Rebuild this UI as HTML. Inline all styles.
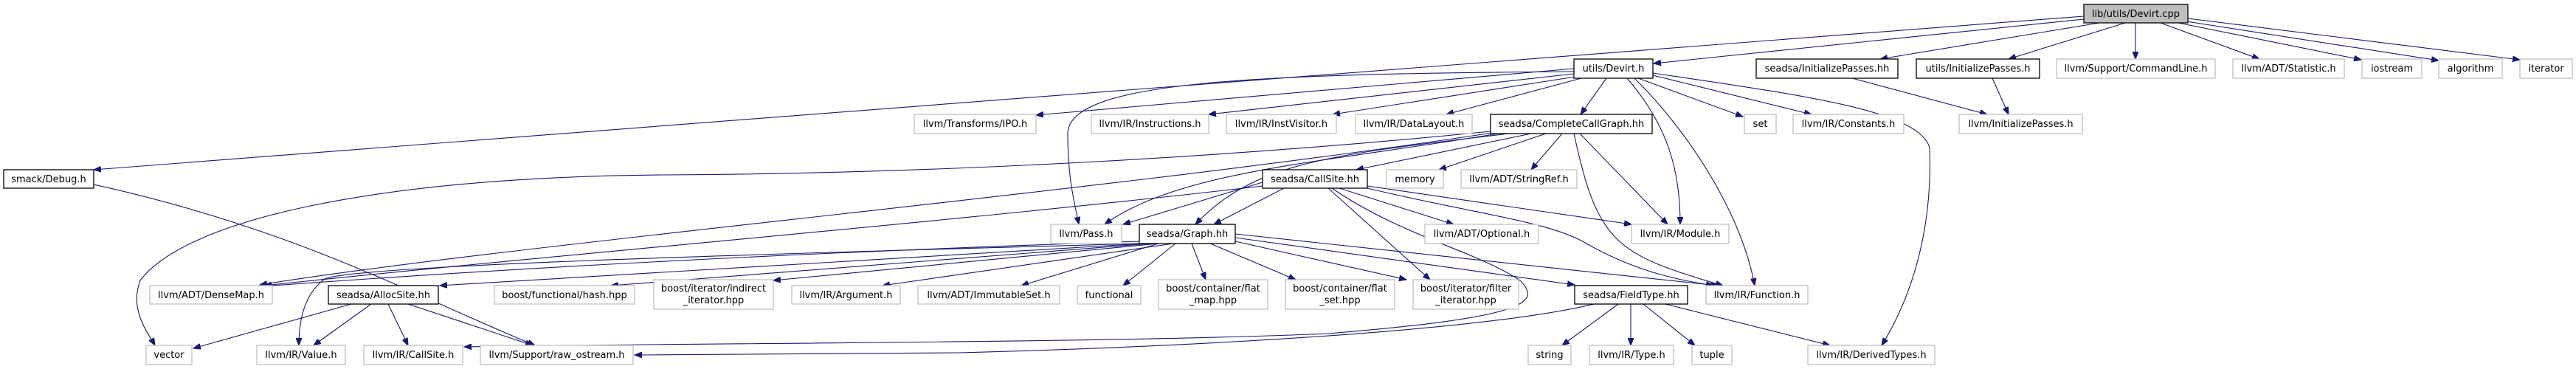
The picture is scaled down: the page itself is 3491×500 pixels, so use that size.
<!DOCTYPE html>
<html><head><meta charset="utf-8"><style>
html,body{margin:0;padding:0;background:#fff;}
svg{display:block;}
text{font-family:"DejaVu Sans","Liberation Sans",sans-serif;font-size:13px;fill:#000;}
.n{fill:#fff;stroke:#bfbfbf;stroke-width:1.3;}
.b{fill:#fff;stroke:#000;stroke-width:1.3;}
.e{fill:none;stroke:#191970;stroke-width:1.1;marker-end:url(#a);}
</style></head><body>
<svg width="3491" height="500" viewBox="0 0 3491 500" xmlns="http://www.w3.org/2000/svg">
<defs><marker id="a" markerUnits="userSpaceOnUse" markerWidth="11" markerHeight="8" refX="10" refY="4" orient="auto"><path d="M0,0 L10,4 L0,8 z" fill="#191970" stroke="#191970"/></marker></defs>
<g>
<!-- edges from cpp -->
<path class="e" d="M2824,22 L127,230"/>
<path class="e" d="M2824,26 L2241,86"/>
<path class="e" d="M2845,31 L2548,80"/>
<path class="e" d="M2880,31 L2722,80"/>
<path class="e" d="M2894,31 L2894,80"/>
<path class="e" d="M2928,31 L3062,80"/>
<path class="e" d="M2952,31 L3200,81"/>
<path class="e" d="M2963,29 L3305,82"/>
<path class="e" d="M2965,25 L3415,81"/>
<path class="e" d="M2510,106 L2693,155"/>
<path class="e" d="M2700,106 L2722,155"/>
<path class="e" d="M127,250 C400,310 560,400 725,468"/>
<!-- devirt.h -->
<path class="e" d="M2133,93 L1404,156"/>
<path class="e" d="M2133,100 L1638,155"/>
<path class="e" d="M2135,104 L1806,155"/>
<path class="e" d="M2143,106 L1960,155"/>
<path class="e" d="M2177,106 L2142,155"/>
<path class="e" d="M2220,106 L2362,158"/>
<path class="e" d="M2240,102 L2455,155"/>
<path class="e" d="M2133,97 C1700,100 1450,110 1447,180 C1447,240 1455,270 1462,304"/>
<path class="e" d="M2205,106 C2260,170 2277,230 2277,304"/>
<path class="e" d="M2215,106 C2290,180 2360,290 2378,387"/>
<path class="e" d="M2240,99 C2450,130 2600,150 2615,200 C2620,330 2580,420 2550,468"/>
<!-- ccg -->
<path class="e" d="M2020,178 C1700,210 1300,235 900,237 C500,240 250,300 190,380 C175,420 200,450 210,468"/>
<path class="e" d="M2022,180 C1500,260 700,330 352,386"/>
<path class="e" d="M2030,181 C1800,220 1600,230 1497,304"/>
<path class="e" d="M2045,181 C1800,210 1700,220 1620,304"/>
<path class="e" d="M2075,181 L1838,230"/>
<path class="e" d="M2095,181 L1950,230"/>
<path class="e" d="M2117,181 L2075,230"/>
<path class="e" d="M2141,181 L2260,304"/>
<path class="e" d="M2133,181 C2165,330 2190,345 2335,387"/>
<!-- callsite -->
<path class="e" d="M1711,247 L1522,304"/>
<path class="e" d="M1740,255 L1645,304"/>
<path class="e" d="M1711,252 C1300,300 700,350 358,387"/>
<path class="e" d="M1815,255 L1970,304"/>
<path class="e" d="M1853,252 L2211,304"/>
<path class="e" d="M1853,255 C2000,290 2100,300 2150,330 C2220,370 2280,380 2322,387"/>
<path class="e" d="M1800,255 L1938,379"/>
<path class="e" d="M1805,255 C1900,320 2000,340 2060,380 C2090,410 2070,430 1800,452 C1500,465 900,465 629,470"/>
<!-- graph -->
<path class="e" d="M1544,327 C1000,345 600,370 356,388"/>
<path class="e" d="M1544,330 C1000,345 480,360 440,378 C410,400 405,440 405,468"/>
<path class="e" d="M1550,330 L596,387"/>
<path class="e" d="M1560,330 L828,387"/>
<path class="e" d="M1570,330 L1048,380"/>
<path class="e" d="M1590,330 L1196,387"/>
<path class="e" d="M1570,330 L1384,387"/>
<path class="e" d="M1593,330 L1522,387"/>
<path class="e" d="M1615,330 L1634,379"/>
<path class="e" d="M1640,330 L1756,379"/>
<path class="e" d="M1674,327 L1906,379"/>
<path class="e" d="M1674,322 L2134,386"/>
<path class="e" d="M1674,317 L2328,387"/>
<!-- allocsite -->
<path class="e" d="M476,412 L262,472"/>
<path class="e" d="M503,412 L425,468"/>
<path class="e" d="M526,412 L553,468"/>
<path class="e" d="M553,412 L722,468"/>
<!-- fieldtype -->
<path class="e" d="M2193,412 L2117,468"/>
<path class="e" d="M2210,412 L2210,468"/>
<path class="e" d="M2227,412 L2297,468"/>
<path class="e" d="M2257,412 L2480,468"/>
<path class="e" d="M2160,412 C2000,450 1600,470 1300,478 L860,481"/>
</g>
<g>
<rect x="2824" y="6" width="141" height="25" fill="#bfbfbf" stroke="#000" stroke-width="1.3"/><text x="2894.5" y="23" text-anchor="middle">lib/utils/Devirt.cpp</text>
<rect class="b" x="5" y="230" width="122" height="25"/><text x="66" y="247" text-anchor="middle">smack/Debug.h</text>
<rect class="b" x="2133" y="80" width="107" height="26"/><text x="2186.5" y="97" text-anchor="middle">utils/Devirt.h</text>
<rect class="b" x="2380" y="80" width="192" height="26"/><text x="2476" y="97" text-anchor="middle">seadsa/InitializePasses.hh</text>
<rect class="b" x="2597" y="80" width="167" height="26"/><text x="2680.5" y="97" text-anchor="middle">utils/InitializePasses.h</text>
<rect class="n" x="2787" y="80" width="215" height="26"/><text x="2894.5" y="97" text-anchor="middle">llvm/Support/CommandLine.h</text>
<rect class="n" x="3026" y="80" width="151" height="26"/><text x="3101.5" y="97" text-anchor="middle">llvm/ADT/Statistic.h</text>
<rect class="n" x="3201" y="80" width="81" height="26"/><text x="3241.5" y="97" text-anchor="middle">iostream</text>
<rect class="n" x="3305" y="80" width="86" height="26"/><text x="3348" y="97" text-anchor="middle">algorithm</text>
<rect class="n" x="3415" y="80" width="71" height="26"/><text x="3450.5" y="97" text-anchor="middle">iterator</text>
<rect class="n" x="1239" y="155" width="165" height="26"/><text x="1321.5" y="172" text-anchor="middle">llvm/Transforms/IPO.h</text>
<rect class="n" x="1479" y="155" width="159" height="26"/><text x="1558.5" y="172" text-anchor="middle">llvm/IR/Instructions.h</text>
<rect class="n" x="1662" y="155" width="149" height="26"/><text x="1736.5" y="172" text-anchor="middle">llvm/IR/InstVisitor.h</text>
<rect class="n" x="1837" y="155" width="158" height="26"/><text x="1916" y="172" text-anchor="middle">llvm/IR/DataLayout.h</text>
<rect class="b" x="2020" y="155" width="219" height="26"/><text x="2129.5" y="172" text-anchor="middle">seadsa/CompleteCallGraph.hh</text>
<rect class="n" x="2364" y="155" width="43" height="26"/><text x="2385.5" y="172" text-anchor="middle">set</text>
<rect class="n" x="2430" y="155" width="150" height="26"/><text x="2505" y="172" text-anchor="middle">llvm/IR/Constants.h</text>
<rect class="n" x="2655" y="155" width="167" height="26"/><text x="2738.5" y="172" text-anchor="middle">llvm/InitializePasses.h</text>
<rect class="n" x="1879" y="230" width="77" height="25"/><text x="1917.5" y="247" text-anchor="middle">memory</text>
<rect class="n" x="1980" y="230" width="157" height="25"/><text x="2058.5" y="247" text-anchor="middle">llvm/ADT/StringRef.h</text>
<rect class="b" x="1711" y="230" width="142" height="25"/><text x="1782" y="247" text-anchor="middle">seadsa/CallSite.hh</text>
<rect class="n" x="1424" y="304" width="96" height="26"/><text x="1472" y="321" text-anchor="middle">llvm/Pass.h</text>
<rect class="b" x="1544" y="304" width="130" height="26"/><text x="1609" y="321" text-anchor="middle">seadsa/Graph.hh</text>
<rect class="n" x="1931" y="304" width="154" height="26"/><text x="2008" y="321" text-anchor="middle">llvm/ADT/Optional.h</text>
<rect class="n" x="2211" y="304" width="132" height="26"/><text x="2277" y="321" text-anchor="middle">llvm/IR/Module.h</text>
<rect class="n" x="203" y="387" width="166" height="25"/><text x="286" y="404" text-anchor="middle">llvm/ADT/DenseMap.h</text>
<rect class="b" x="445" y="387" width="149" height="25"/><text x="519.5" y="404" text-anchor="middle">seadsa/AllocSite.hh</text>
<rect class="n" x="670" y="387" width="190" height="25"/><text x="765" y="404" text-anchor="middle">boost/functional/hash.hpp</text>
<rect class="n" x="886" y="379" width="162" height="40"/><text x="967" y="395" text-anchor="middle">boost/iterator/indirect</text><text x="967" y="411" text-anchor="middle">_iterator.hpp</text>
<rect class="n" x="1073" y="387" width="147" height="25"/><text x="1146.5" y="404" text-anchor="middle">llvm/IR/Argument.h</text>
<rect class="n" x="1244" y="387" width="192" height="25"/><text x="1340" y="404" text-anchor="middle">llvm/ADT/ImmutableSet.h</text>
<rect class="n" x="1460" y="387" width="86" height="25"/><text x="1503" y="404" text-anchor="middle">functional</text>
<rect class="n" x="1570" y="379" width="148" height="40"/><text x="1644" y="395" text-anchor="middle">boost/container/flat</text><text x="1644" y="411" text-anchor="middle">_map.hpp</text>
<rect class="n" x="1742" y="379" width="148" height="40"/><text x="1816" y="395" text-anchor="middle">boost/container/flat</text><text x="1816" y="411" text-anchor="middle">_set.hpp</text>
<rect class="n" x="1915" y="379" width="143" height="40"/><text x="1986.5" y="395" text-anchor="middle">boost/iterator/filter</text><text x="1986.5" y="411" text-anchor="middle">_iterator.hpp</text>
<rect class="b" x="2134" y="387" width="153" height="25"/><text x="2210.5" y="404" text-anchor="middle">seadsa/FieldType.hh</text>
<rect class="n" x="2312" y="387" width="138" height="25"/><text x="2381" y="404" text-anchor="middle">llvm/IR/Function.h</text>
<rect class="n" x="198" y="468" width="62" height="26"/><text x="229" y="485" text-anchor="middle">vector</text>
<rect class="n" x="348" y="468" width="120" height="26"/><text x="408" y="485" text-anchor="middle">llvm/IR/Value.h</text>
<rect class="n" x="493" y="468" width="134" height="26"/><text x="560" y="485" text-anchor="middle">llvm/IR/CallSite.h</text>
<rect class="n" x="651" y="468" width="207" height="26"/><text x="754.5" y="485" text-anchor="middle">llvm/Support/raw_ostream.h</text>
<rect class="n" x="2071" y="468" width="58" height="26"/><text x="2100" y="485" text-anchor="middle">string</text>
<rect class="n" x="2154" y="468" width="114" height="26"/><text x="2211" y="485" text-anchor="middle">llvm/IR/Type.h</text>
<rect class="n" x="2293" y="468" width="54" height="26"/><text x="2320" y="485" text-anchor="middle">tuple</text>
<rect class="n" x="2450" y="468" width="172" height="26"/><text x="2536" y="485" text-anchor="middle">llvm/IR/DerivedTypes.h</text>
</g>
</svg>
</body></html>
